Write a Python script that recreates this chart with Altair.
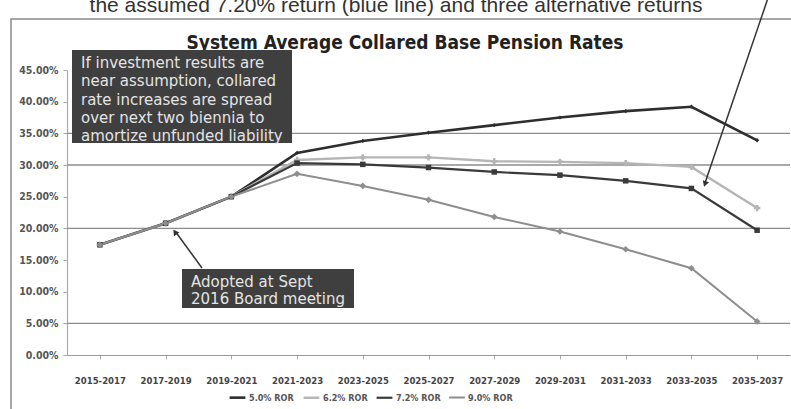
import altair as alt
import pandas as pd

periods = ["2015-2017", "2017-2019", "2019-2021", "2021-2023", "2023-2025",
           "2025-2027", "2027-2029", "2029-2031", "2031-2033", "2033-2035", "2035-2037"]
series = ["5.0% ROR", "6.2% ROR", "7.2% ROR", "9.0% ROR"]
ror_50 = [17.4, 20.8, 25.0, 31.9, 33.8, 35.1, 36.3, 37.5, 38.5, 39.2, 33.9]
ror_62 = [17.4, 20.8, 25.0, 30.8, 31.2, 31.2, 30.6, 30.5, 30.3, 29.7, 23.2]
ror_72 = [17.4, 20.8, 25.0, 30.3, 30.1, 29.6, 28.9, 28.4, 27.5, 26.3, 19.7]
ror_90 = [17.4, 20.8, 25.0, 28.6, 26.7, 24.5, 21.8, 19.5, 16.7, 13.7, 5.3]
y_ticks = [0, 5, 10, 15, 20, 25, 30, 35, 40, 45]
gridlines = [5, 20, 30, 35]

colors = ["#2e2e2e", "#b5b5b5", "#3a3a3a", "#8e8e8e"]
widths = [2.6, 2.0, 2.3, 1.8]
shapes = ["diamond", "cross", "square", "diamond"]
sizes = [18, 40, 30, 45]

rows = []
for s, vals in zip(series, [ror_50, ror_62, ror_72, ror_90]):
    for p, v in zip(periods, vals):
        rows.append({"period": p, "series": s, "rate": v})
df = pd.DataFrame(rows)

W, H = 723, 285
FONT = "Liberation Sans"
WIDE = "DejaVu Sans"
NARROW = "Liberation Sans Narrow, DejaVu Sans Condensed, sans-serif"

x_enc = alt.X("period:N", sort=periods,
              scale=alt.Scale(type="point", padding=0.5),
              axis=alt.Axis(title=None, labelAngle=0, labelFontSize=9.5, labelColor="#444",
                            labelFont=NARROW, labelFontWeight="bold", labelOverlap=False,
                            labelPadding=16, tickSize=4, tickColor="#aaa",
                            domainColor="#999", domainWidth=1.2))
y_scale = alt.Scale(domain=[0, 45], nice=False)
y_axis = alt.Axis(title=None, values=y_ticks, grid=False, labelOverlap=False,
                  labelExpr="format(datum.value, '.2f') + '%'",
                  labelFontSize=10.5, labelColor="#555", labelFont=NARROW,
                  labelFontWeight="bold",
                  labelPadding=5, tickSize=4, tickColor="#aaa",
                  domainColor="#aaa", domainWidth=1.2)
y_enc = alt.Y("rate:Q", scale=y_scale, axis=y_axis)

color_enc = alt.Color("series:N", sort=series,
                      scale=alt.Scale(domain=series, range=colors),
                      legend=alt.Legend(title=None, orient="none", legendX=161, legendY=318,
                                        direction="horizontal", symbolType="stroke",
                                        symbolStrokeWidth=3.5, symbolSize=250,
                                        labelFontSize=9, labelColor="#555", labelFont=NARROW,
                                        labelFontWeight="bold",
                                        columnPadding=4, labelOffset=2))

grid = alt.Chart(pd.DataFrame({"g": gridlines})).mark_rule(
    color="#8c8c8c", strokeWidth=1.3).encode(y=alt.Y("g:Q", scale=y_scale, axis=y_axis))

lines = alt.Chart(df).mark_line().encode(
    x=x_enc, y=y_enc, color=color_enc,
    strokeWidth=alt.StrokeWidth("series:N", sort=series,
                                scale=alt.Scale(domain=series, range=widths), legend=None))

point_layers = []
for s, c, sh, sz in zip(series, colors, shapes, sizes):
    point_layers.append(
        alt.Chart(df).transform_filter(alt.datum.series == s).mark_point(
            filled=True, opacity=1, color=c, shape=sh, size=sz).encode(x=x_enc, y=y_enc))

one = pd.DataFrame({"a": [0]})

frame = alt.Chart(one).mark_rect(fill=None, stroke="#8a8a8a", strokeWidth=1.5).encode(
    x=alt.value(-56), x2=alt.value(760), y=alt.value(-51), y2=alt.value(380))

top_text = alt.Chart(one).mark_text(
    font=FONT, fontSize=21, color="#333", align="center", baseline="alphabetic").encode(
    x=alt.value(329), y=alt.value(-58),
    text=alt.value("the assumed 7.20% return (blue line) and three alternative returns"))

title = alt.Chart(one).mark_text(
    font=NARROW, fontSize=19, fontWeight="bold", color="#222",
    align="center", baseline="middle").encode(
    x=alt.value(338), y=alt.value(-27),
    text=alt.value("System Average Collared Base Pension Rates"))

box1 = alt.Chart(one).mark_rect(color="#3f3f3f").encode(
    x=alt.value(5), x2=alt.value(225), y=alt.value(-20), y2=alt.value(73))
box1_text = alt.Chart(one).mark_text(
    font=WIDE, fontSize=15, color="#e4e4e4", align="left", baseline="middle",
    lineBreak="\n", lineHeight=18.3).encode(
    x=alt.value(14), y=alt.value(-7),
    text=alt.value("If investment results are\nnear assumption, collared\n"
                   "rate increases are spread\nover next two biennia to\n"
                   "amortize unfunded liability"))

box2 = alt.Chart(one).mark_rect(color="#3f3f3f").encode(
    x=alt.value(115), x2=alt.value(287), y=alt.value(199), y2=alt.value(238))
box2_text = alt.Chart(one).mark_text(
    font=WIDE, fontSize=15, color="#e4e4e4", align="left", baseline="middle",
    lineBreak="\n", lineHeight=17.6).encode(
    x=alt.value(124), y=alt.value(211.7),
    text=alt.value("Adopted at Sept\n2016 Board meeting"))

arrow2 = alt.Chart(one).mark_rule(color="#333", strokeWidth=1.5).encode(
    x=alt.value(135), y=alt.value(198), x2=alt.value(108), y2=alt.value(161))
arrow2_head = alt.Chart(one).mark_point(shape="triangle-up", filled=True, color="#333",
                                        size=45, angle=324, opacity=1).encode(
    x=alt.value(108), y=alt.value(162))

arrow1 = alt.Chart(one).mark_rule(color="#333", strokeWidth=1.5).encode(
    x=alt.value(701), y=alt.value(-72), x2=alt.value(638), y2=alt.value(113))
arrow1_head = alt.Chart(one).mark_point(shape="triangle-up", filled=True, color="#333",
                                        size=45, angle=199, opacity=1).encode(
    x=alt.value(638), y=alt.value(114))

chart = alt.layer(
    frame, grid, lines, *point_layers, top_text, title, box1, box1_text, box2, box2_text,
    arrow2, arrow2_head, arrow1, arrow1_head
).properties(
    width=W, height=H,
    padding={"left": 67, "top": 70, "right": 1, "bottom": 54},
    autosize=alt.AutoSizeParams(type="none"),
    background="#ffffff"
).configure_view(stroke=None)

chart.save("out.html", embed_options={"renderer": "svg", "actions": False})
